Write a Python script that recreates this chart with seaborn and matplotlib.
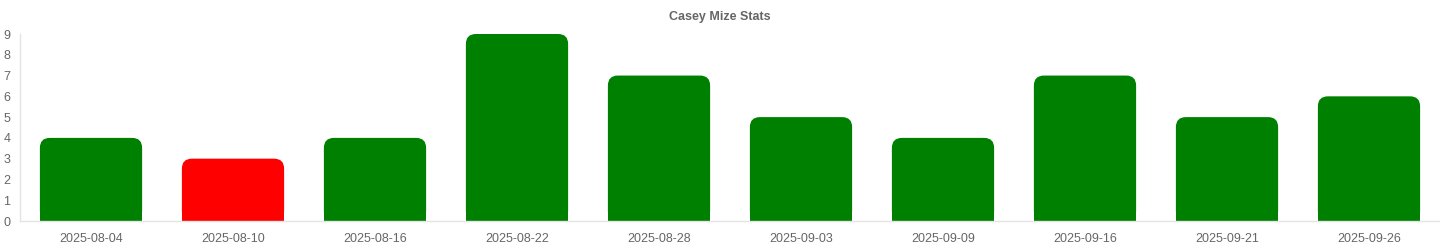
import matplotlib
matplotlib.use("Agg")
import matplotlib.pyplot as plt
import seaborn as sns
import pandas as pd
from matplotlib.patches import FancyBboxPatch, Rectangle

dates = ["2025-08-04", "2025-08-10", "2025-08-16", "2025-08-22", "2025-08-28",
         "2025-09-03", "2025-09-09", "2025-09-16", "2025-09-21", "2025-09-26"]
values = [4, 3, 4, 9, 7, 5, 4, 7, 5, 6]
colors = ["#008000", "#ff0000", "#008000", "#008000", "#008000",
          "#008000", "#008000", "#008000", "#008000", "#008000"]
title = "Casey Mize Stats"

sns.set_theme(style="white")
plt.rcParams['font.family'] = ['Liberation Sans', 'DejaVu Sans']

df = pd.DataFrame({"date": dates, "value": values})

W, H = 1440, 250
fig = plt.figure(figsize=(W / 100, H / 100), dpi=100)
ax_left, ax_right, ax_top, ax_bot = 20, 1440, 34, 221
ax = fig.add_axes([ax_left / W, (H - ax_bot) / H, (ax_right - ax_left) / W, (ax_bot - ax_top) / H])

sns.barplot(data=df, x="date", y="value", hue="date", palette=colors, legend=False,
            width=0.72, ax=ax, saturation=1)

ax.set_xlim(-0.5, len(dates) - 0.5)
ax.set_ylim(0, 9)
ax.set_yticks(range(0, 10))

# rounded top corners
px_per_x = (ax_right - ax_left) / len(dates)
px_per_y = (ax_bot - ax_top) / 9
r_px = 10
mut_aspect = px_per_x / px_per_y
r_x = r_px / px_per_x
for p in list(ax.patches):
    x0, y0 = p.get_x(), p.get_y()
    w, h = p.get_width(), p.get_height()
    fc = p.get_facecolor()
    p.set_visible(False)
    fb = FancyBboxPatch((x0, y0), w, h, boxstyle=f"round,pad=0,rounding_size={r_x}",
                        mutation_aspect=mut_aspect, facecolor=fc, edgecolor="none", zorder=2)
    ax.add_patch(fb)
    ax.add_patch(Rectangle((x0, y0), w, h / 2, facecolor=fc, edgecolor="none", zorder=2))

ax.set_xlabel("")
ax.set_ylabel("")
for s in ["top", "right"]:
    ax.spines[s].set_visible(False)
for s in ["left", "bottom"]:
    ax.spines[s].set_color("#e4e4e4")
    ax.spines[s].set_linewidth(1)
ax.tick_params(axis="both", length=0, labelsize=9, labelcolor="#666666")
ax.tick_params(axis="x", pad=9)
for lab in ax.get_yticklabels():
    lab.set_horizontalalignment("left")
ax.tick_params(axis="y", pad=12)
ax.grid(False)

fig.text(0.5, 1 - 17 / H, title, ha="center", va="center", fontsize=9,
         fontweight="bold", color="#666666")

fig.savefig("out.png", dpi=100, facecolor="white")
